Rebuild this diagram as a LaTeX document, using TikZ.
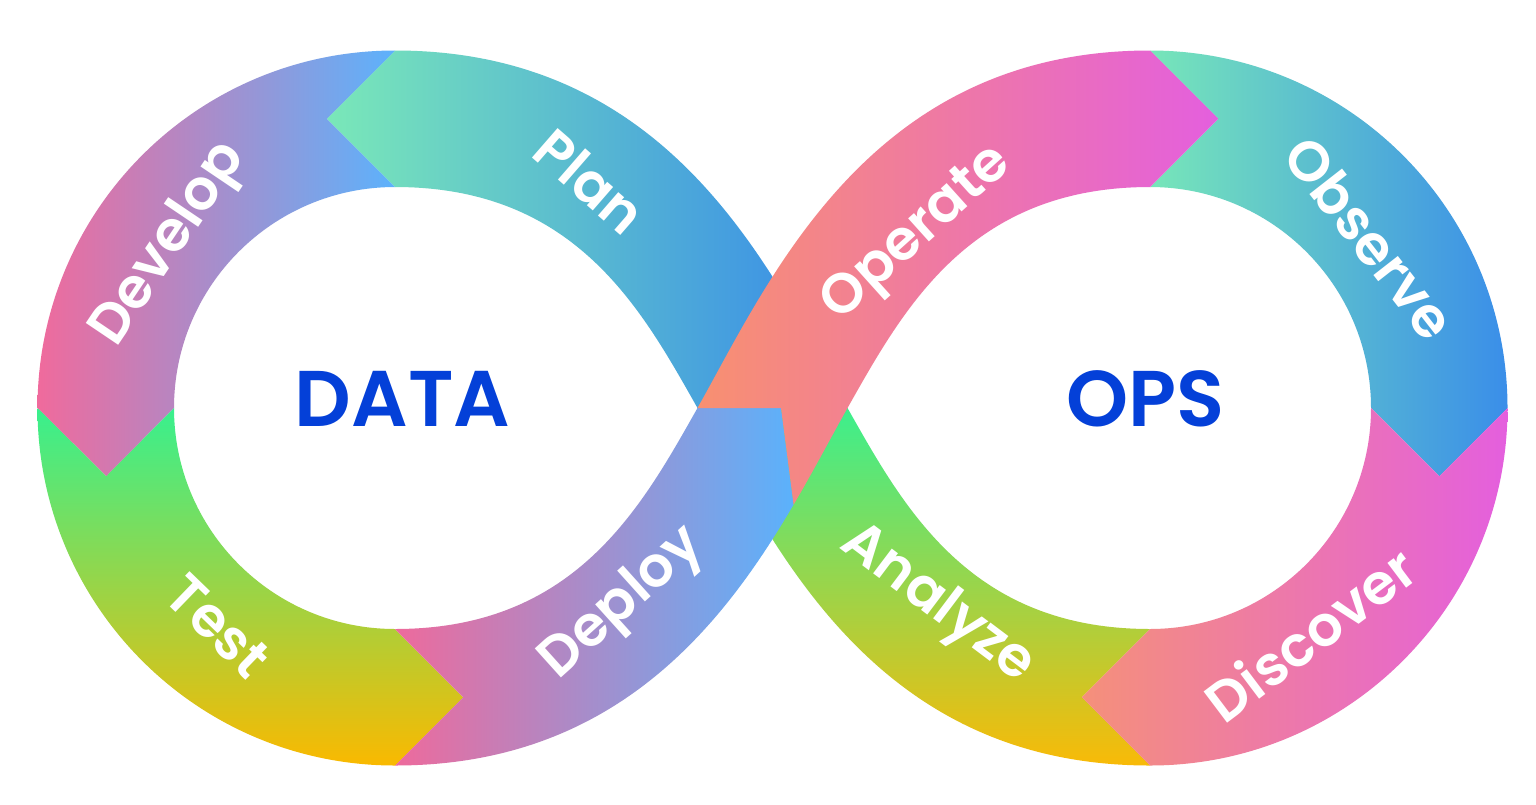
\documentclass[tikz,border=0pt]{standalone}
\usepackage{fontspec}
\setmainfont{Poppins}[BoldFont={Poppins SemiBold}]
\definecolor{plA}{HTML}{7AE8B8}
\definecolor{plB}{HTML}{3689EA}
\definecolor{dvA}{HTML}{F06A9C}
\definecolor{dvB}{HTML}{5CB2FC}
\definecolor{tsA}{HTML}{38F08E}
\definecolor{tsB}{HTML}{FAB900}
\definecolor{dpA}{HTML}{EE6A9C}
\definecolor{dpB}{HTML}{5AB2FC}
\definecolor{opA}{HTML}{F89070}
\definecolor{opB}{HTML}{E45FDE}
\definecolor{obA}{HTML}{77E6B9}
\definecolor{obB}{HTML}{3A8EE9}
\definecolor{dcA}{HTML}{F5907A}
\definecolor{dcB}{HTML}{E45FDE}
\definecolor{anA}{HTML}{3CEF8D}
\definecolor{anB}{HTML}{F9BA07}
\definecolor{titleblue}{HTML}{0440D8}
\begin{document}
\begin{tikzpicture}[x=1pt,y=-1pt,
  lab/.style={text=white, font=\fontsize{56}{56}\selectfont\bfseries, inner sep=0pt},
  big/.style={text=titleblue, font=\fontsize{79}{79}\selectfont\bfseries, inner sep=0pt}]
\useasboundingbox (0,0) rectangle (1536,804);
\fill[white] (0,0) rectangle (1536,804);

% ---------- Band 2 (under): Plan, Analyze ----------
% Plan
\begin{scope}
\clip (395,50.5) -- (326.75,118.75) -- (395,187) .. controls (575,187) and (641,308) .. (697.5,408) -- (847.5,408) .. controls (774,277.5) and (675,50.5) .. (395,50.5) -- cycle;
\shade[left color=plA, right color=plB] (326,0) rectangle (848,804);
\end{scope}
% Analyze
\begin{scope}
\clip (847.5,408) .. controls (904,508) and (970,629) .. (1150,629) -- (1081.75,697.25) -- (1150,765.5) .. controls (870,765.5) and (771,538.5) .. (697.5,408) -- cycle;
\shade[top color=anA, bottom color=anB] (690,408) rectangle (1160,766);
\end{scope}

% ---------- Left loop ----------
% Develop
\begin{scope}
\clip (395,50.5) arc[start angle=270, end angle=180, radius=357.5] -- (106.25,476.25) -- (174,408) arc[start angle=180, end angle=270, radius=221] -- (326.75,118.75) -- cycle;
\shade[left color=dvA, right color=dvB] (37,0) rectangle (396,804);
\end{scope}
% Test
\begin{scope}
\clip (37.5,408) -- (106.25,476.25) -- (174,408) arc[start angle=180, end angle=90, radius=221] -- (463.25,697.25) -- (395,765.5) arc[start angle=90, end angle=180, radius=357.5] -- cycle;
\shade[top color=tsA, bottom color=tsB] (30,408) rectangle (470,766);
\end{scope}

% ---------- Right loop ----------
% Observe
\begin{scope}
\clip (1150,50.5) -- (1218.25,118.75) -- (1150,187) arc[start angle=270, end angle=360, radius=221] -- (1439.25,476.25) -- (1507.5,408) arc[start angle=0, end angle=-90, radius=357.5] -- cycle;
\shade[left color=obA, right color=obB] (1150,0) rectangle (1508,804);
\end{scope}
% Discover
\begin{scope}
\clip (1371,408) -- (1439.25,476.25) -- (1507.5,408) arc[start angle=0, end angle=90, radius=357.5] -- (1081.75,697.25) -- (1150,629) arc[start angle=90, end angle=0, radius=221] -- cycle;
\shade[left color=dcA, right color=dcB] (1081,0) rectangle (1508,804);
\end{scope}

% ---------- Band 1 (over): Deploy, Operate ----------
% Deploy
\begin{scope}
\clip (395,629) -- (463.25,697.25) -- (395,765.5) .. controls (613.4,765.5) and (721.7,627.3) .. (793.6,504.6) -- (781,408) -- (697.5,408) .. controls (641,508) and (575,629) .. (395,629) -- cycle;
\shade[left color=dpA, right color=dpB] (395,0) rectangle (795,804);
\end{scope}
% Operate
\begin{scope}
\clip (697.5,408) .. controls (771,277.5) and (870,50.5) .. (1150,50.5) -- (1218.25,118.75) -- (1150,187) .. controls (970,187) and (904,308) .. (847.5,408) .. controls (831.3,436.7) and (813.9,470.1) .. (793.6,504.6) -- (781,408) -- cycle;
\shade[left color=opA, right color=opB] (697,0) rectangle (1219,804);
\end{scope}

% ---------- Labels ----------
\node[lab, rotate=-41] (plan) at (590,181) {Plan};
\node[lab, rotate=56] (develop) at (170,245) {Develop};
\node[lab, rotate=-44] (test) at (218,626) {Test};
\node[lab, rotate=42] (deploy) at (623,604) {Deploy};
\node[lab, rotate=42] (operate) at (918,235) {Operate};
\node[lab, rotate=-52] (observe) at (1370,238) {Observe};
\node[lab, rotate=37] (discover) at (1310,634) {Discover};
\node[lab, rotate=-37] (analyze) at (937,605) {Analyze};

\node[big] (data) at (402.5,399) {DATA};
\node[big] (ops) at (1146,399) {OPS};
\end{tikzpicture}
\end{document}
